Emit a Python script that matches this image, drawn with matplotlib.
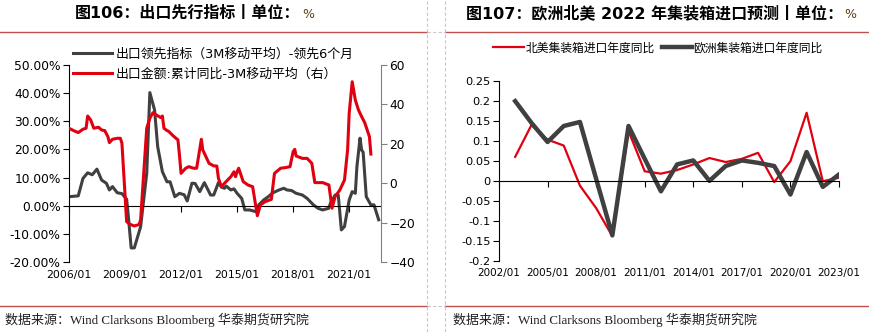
import matplotlib
matplotlib.use('Agg')
import matplotlib.pyplot as plt
import matplotlib.dates as mdates
from matplotlib.lines import Line2D
from matplotlib.text import Annotation
import pandas as pd

plt.rcParams['font.family'] = ['DejaVu Sans', 'Noto Sans CJK SC']

# ---- left chart data ----
# export lead indicator, 3M moving average, leading 6 months (left axis, %)
lead_dates = ['2006-01', '2006-07', '2006-10', '2007-01', '2007-04', '2007-07', '2007-10',
              '2008-01', '2008-03', '2008-05', '2008-08', '2008-11', '2009-02', '2009-03',
              '2009-05', '2009-07', '2009-11', '2010-03', '2010-05', '2010-08', '2010-10',
              '2011-01', '2011-04', '2011-06', '2011-09', '2011-12', '2012-03', '2012-05',
              '2012-08', '2012-10', '2013-01', '2013-04', '2013-08', '2013-10', '2014-01',
              '2014-03', '2014-05', '2014-06', '2014-09', '2014-11', '2015-01', '2015-04',
              '2015-06', '2015-09', '2016-01', '2016-03', '2016-06', '2016-09', '2016-12',
              '2017-04', '2017-07', '2017-09', '2017-12', '2018-03', '2018-07', '2018-10',
              '2019-02', '2019-05', '2019-08', '2019-12', '2020-01', '2020-04', '2020-06',
              '2020-08', '2020-10', '2021-01', '2021-03', '2021-05', '2021-06', '2021-08',
              '2021-09', '2021-10', '2021-12', '2022-03', '2022-05', '2022-06', '2022-08']
lead_values = [3.2, 3.5, 9.7, 11.7, 11.0, 13.0, 9.1,
               8.0, 5.6, 6.8, 4.6, 4.3, 2.3, -2.7,
               -15.0, -15.0, -7.5, 11.5, 40.2, 34.0, 21.0,
               12.1, 8.5, 8.5, 3.2, 4.4, 3.9, 1.7,
               8.0, 7.9, 5.0, 8.2, 3.8, 3.8, 8.2,
               6.6, 6.2, 7.0, 5.6, 6.0, 4.4, 2.6,
               -1.5, -1.5, -2.1, 0.3, 2.0, 3.2, 4.6,
               5.6, 6.2, 5.6, 5.4, 4.4, 3.8, 2.6,
               0.3, -0.9, -1.5, -0.9, 0.9, 3.8, 3.8,
               -8.6, -7.4, 2.0, 5.0, 4.4, 13.9, 24.0,
               19.8, 19.0, 3.2, 0.3, 0.3, -1.5, -5.0]

# export value, cumulative yoy, 3M moving average (right axis)
export_dates = ['2006-01', '2006-04', '2006-07', '2006-10', '2006-12', '2007-01', '2007-03',
                '2007-05', '2007-08', '2007-10', '2007-12', '2008-02', '2008-03', '2008-05',
                '2008-08', '2008-10', '2008-11', '2009-02', '2009-04', '2009-07', '2009-10',
                '2009-11', '2010-03', '2010-05', '2010-07', '2010-09', '2010-12', '2011-01',
                '2011-02', '2011-04', '2011-05', '2011-08', '2011-11', '2011-12', '2012-01',
                '2012-04', '2012-06', '2012-09', '2012-11', '2013-02', '2013-03', '2013-07',
                '2013-10', '2013-12', '2014-01', '2014-03', '2014-05', '2014-09', '2014-11',
                '2014-12', '2015-01', '2015-02', '2015-05', '2015-08', '2015-11', '2016-02',
                '2016-04', '2016-07', '2016-11', '2017-01', '2017-05', '2017-08', '2017-11',
                '2018-01', '2018-02', '2018-03', '2018-07', '2018-10', '2019-01', '2019-03',
                '2019-05', '2019-08', '2019-12', '2020-02', '2020-04', '2020-07', '2020-10',
                '2020-12', '2021-01', '2021-03', '2021-05', '2021-07', '2021-09', '2021-11',
                '2022-02', '2022-03']
export_values = [27.9, 26.7, 25.7, 27.4, 27.9, 34.1, 32.1,
                 27.9, 28.4, 27.0, 26.7, 23.6, 20.6, 22.3,
                 22.8, 22.8, 20.3, -19.5, -20.8, -21.7, -21.0,
                 -18.7, 27.9, 33.0, 35.8, 34.7, 33.3, 34.1,
                 27.9, 26.7, 26.4, 24.0, 22.0, 14.3, 5.0,
                 7.6, 8.4, 7.6, 7.6, 22.3, 16.9, 10.1,
                 8.8, 8.7, 2.5, -1.8, 0.0, 3.3, 5.8,
                 3.3, 5.8, 7.6, 0.8, -0.9, -1.8, -16.5,
                 -11.0, -9.4, -8.2, 5.0, 7.6, 7.9, 8.4,
                 16.0, 17.2, 13.8, 12.6, 12.6, 10.1, 0.3,
                 0.3, 0.3, -0.9, -12.7, -6.8, -3.5, 1.6,
                 16.9, 35.5, 51.5, 42.2, 37.2, 33.8, 30.7,
                 23.6, 14.8]

left_ticks = ['2006-01', '2009-01', '2012-01', '2015-01', '2018-01', '2021-01']

# ---- right chart data ----
years = list(range(2003, 2024))
na_yoy = [0.06, 0.139, 0.103, 0.088, -0.012, -0.068, -0.138, 0.124, 0.024, 0.018, 0.027,
          0.041, 0.057, 0.047, 0.055, 0.07, -0.003, 0.049, 0.17, -0.001, 0.008]
eu_yoy = [0.199, 0.145, 0.097, 0.137, 0.147, 0.005, -0.136, 0.137, 0.055, -0.026, 0.041,
          0.051, 0.0, 0.037, 0.051, 0.045, 0.037, -0.034, 0.072, -0.015, 0.016]
right_tick_years = [2002, 2005, 2008, 2011, 2014, 2017, 2020, 2023]

RED = '#e00010'
DARK = '#404040'
RULE = '#c0504d'

fig = plt.figure(figsize=(8.69, 3.32), dpi=100)

# ---------- left chart ----------
ax = fig.add_axes([69 / 869, 1 - 262 / 332, 312 / 869, 197 / 332])
ld = pd.to_datetime(lead_dates)
ed = pd.to_datetime(export_dates)
ax.plot(ld, lead_values, color=DARK, lw=2.2)
ax.set_ylim(-20, 50)
ax.set_yticks(range(-20, 51, 10))
ax.set_yticklabels(['%.2f%%' % v for v in range(-20, 51, 10)])
ax.set_xlim(pd.Timestamp('2006-01-01'), pd.Timestamp('2022-09-15'))
for s in ['top', 'right']:
    ax.spines[s].set_visible(False)
ax.spines['bottom'].set_position(('data', 0))
ax.spines['left'].set_color('black')
tick_pos = mdates.date2num(pd.to_datetime(left_ticks))
ax.set_xticks(tick_pos)
ax.tick_params(axis='x', length=4, direction='out', labelbottom=False)
ax.tick_params(axis='y', length=4, labelsize=8.8, pad=2)

# labels sit at the bottom while the axis line crosses at zero
sec = ax.secondary_xaxis(0)
sec.set_xticks(tick_pos, labels=[d.replace('-', '/') for d in left_ticks])
sec.spines['bottom'].set_visible(False)
sec.tick_params(length=0, labelsize=7.8, pad=6)

ax2 = ax.twinx()
ax2.plot(ed, export_values, color=RED, lw=2.2)
ax2.set_ylim(-40, 60)
ax2.set_yticks(range(-40, 61, 20))
for s in ['top', 'left', 'bottom']:
    ax2.spines[s].set_visible(False)
ax2.spines['right'].set_color('#808080')
ax2.tick_params(axis='y', length=4, color='#808080', labelsize=8.8, pad=2)

h1 = Line2D([], [], color=DARK, lw=2.2)
h2 = Line2D([], [], color=RED, lw=2.2)
fig.legend([h1, h2], ['出口领先指标（3M移动平均）-领先6个月', '出口金额:累计同比-3M移动平均（右）'],
           loc='upper left', bbox_to_anchor=(73 / 869, 1 - 48 / 332), frameon=False,
           fontsize=9.3, handlelength=3.0, handletextpad=0.3, labelspacing=0.5,
           borderpad=0, borderaxespad=0)

# ---------- right chart ----------
bx = fig.add_axes([499 / 869, 1 - 261 / 332, 340 / 869, 180.3 / 332])
bx.plot(years, na_yoy, color=RED, lw=1.6, label='北美集装箱进口年度同比')
bx.plot(years, eu_yoy, color=DARK, lw=3.2, label='欧洲集装箱进口年度同比')
bx.set_ylim(-0.2, 0.25)
yt = [-0.2, -0.15, -0.1, -0.05, 0, 0.05, 0.1, 0.15, 0.2, 0.25]
bx.set_yticks(yt)
bx.set_yticklabels(['%g' % v for v in yt])
bx.set_xlim(2002, 2023)
for s in ['top', 'right']:
    bx.spines[s].set_visible(False)
bx.spines['bottom'].set_position(('data', 0))
bx.set_xticks(right_tick_years)
bx.tick_params(axis='x', length=4, direction='out', labelbottom=False)
bx.tick_params(axis='y', length=4, labelsize=8.2, pad=2)
bsec = bx.secondary_xaxis(0)
bsec.set_xticks(right_tick_years, labels=['%d/01' % y for y in right_tick_years])
bsec.spines['bottom'].set_visible(False)
bsec.tick_params(length=0, labelsize=7.5, pad=5)
fig.legend(*bx.get_legend_handles_labels(), loc='center', ncol=2,
           bbox_to_anchor=(658 / 869, 1 - 48 / 332), frameon=False, fontsize=8.5,
           handlelength=2.6, handletextpad=0.1, columnspacing=0.6,
           borderpad=0, borderaxespad=0)

# ---------- titles, rules, source ----------
titles = [(75, '图106：出口先行指标丨单位：'), (466, '图107：欧洲北美 2022 年集装箱进口预测丨单位：')]
for xx, txt in titles:
    t = fig.text(xx / 869, 1 - 13 / 332, txt, ha='left', va='center',
                 fontsize=11.5, fontweight='bold')
    # the % sign is set smaller and not bold, just after the title
    fig.add_artist(Annotation('%', xy=(1, 0.5), xycoords=t, xytext=(1, -1),
                              textcoords='offset points', ha='left', va='center',
                              fontsize=9, color='#5a3d14'))

for x0, x1 in [(0, 427), (445, 869)]:
    for yy in [32, 306]:
        fig.add_artist(Line2D([x0 / 869, x1 / 869], [1 - yy / 332] * 2, color=RULE, lw=1))
for yy in [32, 306]:
    fig.add_artist(Line2D([427 / 869, 445 / 869], [1 - yy / 332] * 2, color='#c8c8c8',
                          lw=0.8, ls=(0, (3, 2))))
for xx in [427, 445]:
    fig.add_artist(Line2D([xx / 869] * 2, [0, 1], color='#c8c8c8', lw=0.8, ls=(0, (3, 2))))

src = '数据来源：Wind Clarksons Bloomberg 华泰期货研究院'
for xx in [5, 453]:
    fig.text(xx / 869, 1 - 320 / 332, src, ha='left', va='center', fontsize=9.4,
             color='#202020', family=['Liberation Serif', 'Noto Sans CJK SC'])

fig.savefig('out.png', dpi=100)
